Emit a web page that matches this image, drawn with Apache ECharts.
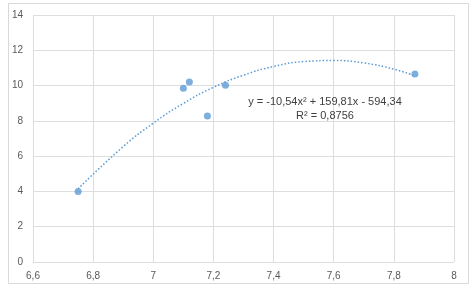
<!DOCTYPE html>
<html><head><meta charset="utf-8">
<script src="https://cdn.jsdelivr.net/npm/echarts@6/dist/echarts.min.js"></script>
<style>html,body{margin:0;padding:0;background:#fff}#c{width:475px;height:287px}</style>
</head><body><div id="c"></div>
<script>
var pointsX = [6.75, 7.10, 7.12, 7.18, 7.24, 7.87];
var pointsY = [4.0, 9.85, 10.2, 8.27, 10.02, 10.65];
var trendX = [6.75, 6.9, 7.0, 7.1, 7.2, 7.3, 7.4, 7.5, 7.6, 7.7, 7.8, 7.87];
var trendY = [4.15, 6.54, 7.87, 8.99, 9.90, 10.59, 11.08, 11.36, 11.42, 11.28, 10.93, 10.55];
var xTicks = ['6,6','6,8','7','7,2','7,4','7,6','7,8','8'];
var eqLine1 = 'y = -10,54x² + 159,81x - 594,34';
var eqLine2 = 'R² = 0,8756';

var chart = echarts.init(document.getElementById('c'));
var fmt = function(v){ return String(Math.round(v*10)/10).replace('.', ','); };
chart.setOption({
  animation: false,
  grid: {left: 33, right: 21, top: 15, bottom: 25},
  xAxis: {type: 'value', min: 6.6, max: 8, interval: 0.2,
    axisLine: {show: false}, axisTick: {show: false},
    splitLine: {show: true, lineStyle: {color: '#dedede', width: 1}},
    axisLabel: {color: '#595959', fontSize: 10, fontFamily: 'Liberation Sans', margin: 9,
      formatter: function(v){ return fmt(v); }}},
  yAxis: {type: 'value', min: 0, max: 14, interval: 2,
    axisLine: {show: false}, axisTick: {show: false},
    splitLine: {show: true, lineStyle: {color: '#dedede', width: 1}},
    axisLabel: {color: '#595959', fontSize: 10, fontFamily: 'Liberation Sans', margin: 10}},
  graphic: [
    {type: 'rect', shape: {x: 8.5, y: 3.5, width: 460, height: 280},
     style: {fill: 'none', stroke: '#d9d9d9', lineWidth: 1}, z: -10},
    {type: 'text', z: 10, style: {x: 325, y: 102, text: eqLine1, align: 'center', verticalAlign: 'middle',
     fill: '#404040', fontSize: 11, fontFamily: 'Liberation Sans'}},
    {type: 'text', z: 10, style: {x: 325, y: 116, text: eqLine2, align: 'center', verticalAlign: 'middle',
     fill: '#404040', fontSize: 11, fontFamily: 'Liberation Sans'}}
  ],
  series: [
    {type: 'line', data: trendX.map(function(x,i){return [x, trendY[i]];}), smooth: true,
     showSymbol: false, lineStyle: {color: '#5b9bd5', width: 1.5, type: [1.5, 2]}, z: 2},
    {type: 'scatter', data: pointsX.map(function(x,i){return [x, pointsY[i]];}),
     symbolSize: 7, itemStyle: {color: '#5b9bd5'}, z: 3}
  ]
});
</script></body></html>
